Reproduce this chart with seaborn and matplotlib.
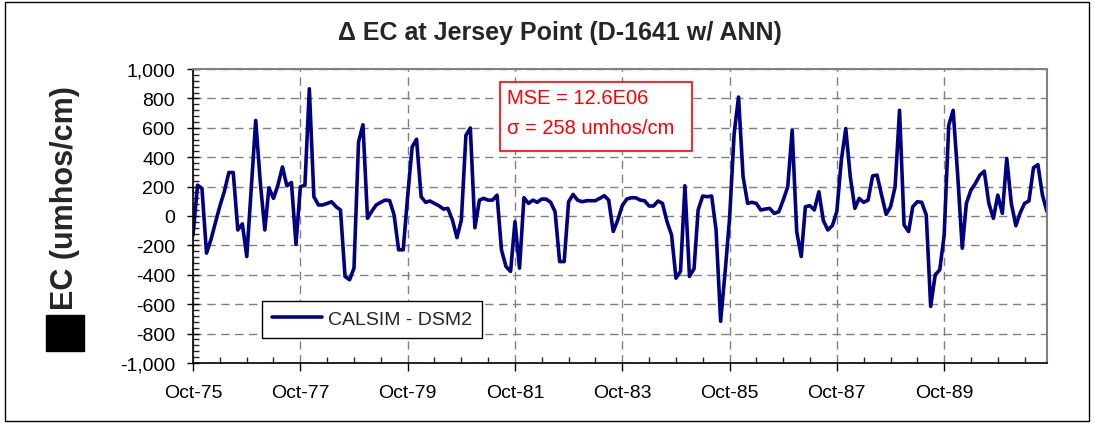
import matplotlib
matplotlib.use("Agg")
import matplotlib.pyplot as plt
import matplotlib.dates as mdates
from matplotlib.patches import Rectangle
from matplotlib.ticker import FuncFormatter, MultipleLocator, FixedLocator
import numpy as np
import pandas as pd
import seaborn as sns

# monthly delta EC, Oct-1975 .. Sep-1991 (umhos/cm)
delta_ec_75_79 = [
    -130, 210, 188, -253, -158, -47, 68, 165, 296, 296, -95, -54,
    -276, 190, 650, 230, -95, 192, 120, 210, 334, 205, 228, -192,
    199, 210, 865, 131, 75, 75, 85, 97, 63, 41, -411, -434,
    -355, 504, 621, -16, 35, 75, 93, 108, 105, 7, -230, -230,
]
delta_ec_79_83 = [
    131, 470, 522, 131, 93, 102, 86, 70, 47, 52, -27, -147,
    -27, 549, 599, -80, 108, 120, 108, 108, 142, -230, -344, -377,
    -38, -355, 124, 86, 108, 93, 115, 115, 93, 29, -310, -310,
    97, 147, 108, 97, 104, 104, 104, 120, 138, 108, -105, -27,
]
delta_ec_83_87 = [
    70, 115, 124, 124, 108, 104, 68, 68, 102, 86, -38, -129,
    -423, -377, 206, -411, -359, 41, 136, 131, 136, -95, -716, -377,
    -16, 560, 809, 267, 86, 93, 86, 41, 47, 52, 18, 29,
    108, 199, 583, -106, -276, 63, 70, 41, 165, -30, -95, -65,
]
delta_ec_87_91 = [
    30, 380, 595, 265, 52, 120, 93, 108, 273, 278, 142, 11,
    63, 199, 719, -61, -106, 63, 97, 93, 7, -615, -400, -366,
    -129, 617, 719, 278, -219, 86, 176, 221, 278, 305, 86, -16,
    142, 18, 391, 86, -66, 18, 86, 102, 328, 350, 142, 29,
]

series_label = "CALSIM - DSM2"
title = "\u0394 EC at Jersey Point (D-1641 w/ ANN)"
y_label = "EC (umhos/cm)"
stats_lines = ["MSE = 12.6E06", "\u03c3 = 258 umhos/cm"]
tick_years = [1975, 1977, 1979, 1981, 1983, 1985, 1987, 1989]

values = delta_ec_75_79 + delta_ec_79_83 + delta_ec_83_87 + delta_ec_87_91
months = pd.date_range("1975-10-01", periods=len(values), freq="MS")
df = pd.DataFrame({"month": months, "delta_ec": values, "series": series_label})

sns.set_theme(style="white")
plt.rcParams["font.family"] = ["Liberation Sans", "DejaVu Sans"]

fig = plt.figure(figsize=(10.94, 4.27), dpi=100)
ax = fig.add_axes([193 / 1094, 63 / 427, 854 / 1094, 294 / 427])

sns.lineplot(data=df, x="month", y="delta_ec", hue="series",
             palette=["#000080"], linewidth=2.6, ax=ax)

ax.set_xlim(months[0], months[-1])
ax.set_ylim(-1000, 1000)
ax.yaxis.set_major_locator(MultipleLocator(200))
ax.yaxis.set_minor_locator(MultipleLocator(40))
ax.yaxis.set_major_formatter(FuncFormatter(lambda v, p: f"{v:,.0f}"))
major_dates = [pd.Timestamp(year=y, month=10, day=1) for y in tick_years]
ax.xaxis.set_major_locator(FixedLocator(mdates.date2num(major_dates)))
ax.xaxis.set_minor_locator(mdates.MonthLocator(bymonth=[4, 10]))
ax.xaxis.set_major_formatter(mdates.DateFormatter("%b-%y"))

ax.tick_params(axis="both", which="major", labelsize=14, colors="black")
ax.tick_params(axis="y", which="major", direction="inout", length=8, width=1, left=True, pad=9)
ax.tick_params(axis="y", which="minor", direction="in", length=4, width=1, left=True)
ax.tick_params(axis="x", which="major", direction="out", length=6, width=1, bottom=True, pad=9)
ax.tick_params(axis="x", which="minor", direction="in", length=4, width=1, bottom=True)

ax.grid(True, which="major", axis="both", color="#808080",
        linestyle=(0, (6, 4)), linewidth=1)
ax.set_axisbelow(True)

for side in ["left", "bottom"]:
    ax.spines[side].set_color("black")
    ax.spines[side].set_linewidth(1.2)
for side in ["top", "right"]:
    ax.spines[side].set_color("#808080")
    ax.spines[side].set_linewidth(1.5)

ax.set_xlabel("")
ax.set_ylabel("")

leg = ax.legend(loc="lower left", bbox_to_anchor=(0.0808, 0.085),
                fontsize=14, frameon=True, fancybox=False, handlelength=2.6,
                handletextpad=0.3, borderpad=0.5, borderaxespad=0)
leg.get_frame().set_edgecolor("black")
leg.get_frame().set_linewidth(1)
leg.get_frame().set_alpha(1)

# stats box
ax.add_patch(Rectangle(((500 - 193) / 854, (364 - 152) / 294), 192 / 854, 69 / 294,
                       transform=ax.transAxes, facecolor="white", edgecolor="red",
                       linewidth=1.2, zorder=5))
ax.text((507 - 193) / 854, (364 - 98) / 294, stats_lines[0], transform=ax.transAxes,
        color="red", fontsize=14.5, va="center", ha="left", zorder=6)
ax.text((507 - 193) / 854, (364 - 128) / 294, stats_lines[1], transform=ax.transAxes,
        color="red", fontsize=14.5, va="center", ha="left", zorder=6)

fig.text(0.512, 1 - 33 / 427, title, ha="center", va="center", fontsize=18, fontweight="bold")
fig.text(0.0594, 1 - 198 / 427, y_label, ha="center", va="center", rotation=90,
         fontsize=22, fontweight="bold")
fig.patches.append(Rectangle((46 / 1094, 1 - 352 / 427), 38 / 1094, 36 / 427,
                             transform=fig.transFigure, facecolor="black",
                             edgecolor="black", figure=fig))
fig.patches.append(Rectangle((5 / 1094, 5 / 427), 1084 / 1094, 419 / 427,
                             transform=fig.transFigure, facecolor="none",
                             edgecolor="black", linewidth=1, figure=fig))

fig.savefig("out.png", dpi=100)
plt.close(fig)
